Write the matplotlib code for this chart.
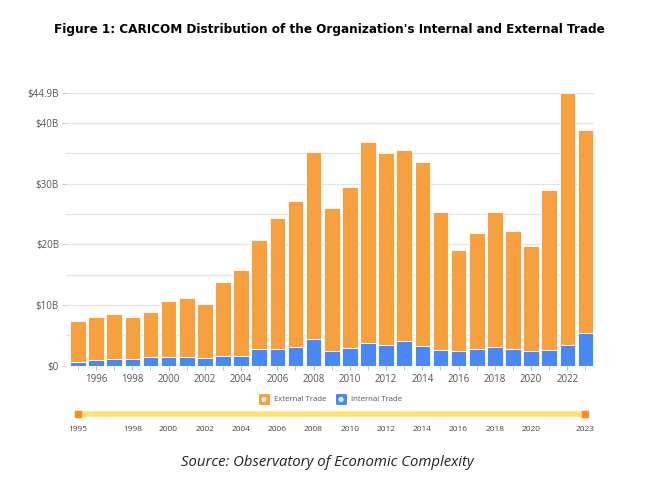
import numpy as np
import matplotlib.pyplot as plt
from matplotlib.patches import FancyBboxPatch, Circle

# Datos (miles de millones USD)
years = list(range(1995, 2024))
internal = [0.66, 0.88, 1.1, 1.1, 1.43, 1.45, 1.45, 1.27, 1.65, 1.6,
            2.7, 2.8, 3.1, 4.35, 2.5, 2.97, 3.74, 3.4, 4.07, 3.3,
            2.6, 2.5, 2.75, 3.08, 2.75, 2.37, 2.64, 3.4, 5.34]
total = [7.3, 8.0, 8.6, 8.1, 8.8, 10.6, 11.2, 10.2, 13.8, 15.7,
         20.7, 24.3, 27.1, 35.2, 26.0, 29.5, 36.9, 35.0, 35.6, 33.6,
         25.4, 19.1, 21.9, 25.4, 22.2, 19.7, 28.9, 44.9, 38.8]
external = [t - i for t, i in zip(total, internal)]

ytick_vals = [0, 10, 20, 30, 40, 44.9]
ytick_labels = ['$0', '$10B', '$20B', '$30B', '$40B', '$44.9B']
xtick_years = list(range(1996, 2023, 2))
slider_years = [1995, 1998, 2000, 2002, 2004, 2006, 2008, 2010, 2012,
                2014, 2016, 2018, 2020, 2023]

ORANGE = '#F7A040'
BLUE = '#4A88F5'
GRID = '#E4E4E4'
TXT = '#555555'

plt.rcParams['font.family'] = ['Open Sans', 'DejaVu Sans']

fig = plt.figure(figsize=(6.58, 4.96), dpi=100)
ax = fig.add_axes([66 / 658, 1 - 365.7 / 496, 528 / 658, 272.4 / 496])

ax.bar(years, internal, width=0.86, color=BLUE, edgecolor='white', linewidth=0.6, zorder=3)
ax.bar(years, external, width=0.86, bottom=internal, color=ORANGE,
       edgecolor='white', linewidth=0.6, zorder=3)

ax.set_xlim(1994.34, 2023.47)
ax.set_ylim(0, 44.9)
ax.set_yticks(ytick_vals)
ax.set_yticklabels(ytick_labels)
ax.set_yticks([5, 15, 25, 35], minor=True)
ax.grid(axis='y', which='both', color=GRID, linewidth=0.9, zorder=0)
ax.set_xticks(xtick_years)
ax.set_xticks(years, minor=True)
ax.tick_params(axis='x', which='both', length=3, color='#BBBBBB', labelsize=7,
               labelcolor=TXT, pad=3)
ax.tick_params(axis='y', which='major', length=3, color='#CCCCCC', labelsize=7,
               labelcolor=TXT, pad=2)
ax.tick_params(axis='y', which='minor', length=0)
for s in ax.spines.values():
    s.set_visible(False)

# Leyenda con iconos
def legend_icon(x, y, color):
    box = FancyBboxPatch((x, y), 11, 11, boxstyle='round,pad=0,rounding_size=1.5',
                         transform=None, facecolor=color, edgecolor='none')
    fig.patches.append(box)
    fig.patches.append(Circle((x + 5, y + 5.5), 2.6, transform=None,
                              facecolor='white', alpha=0.85, edgecolor='none'))

legend_icon(259, 496 - 405, ORANGE)
fig.text(274 / 658, 1 - 399.5 / 496, 'External Trade', fontsize=5.6, color=TXT, va='center')
legend_icon(336, 496 - 405, BLUE)
fig.text(351 / 658, 1 - 399.5 / 496, 'Internal Trade', fontsize=5.6, color=TXT, va='center')

# Barra deslizante
sax = fig.add_axes([66 / 658, 1 - 420 / 496, 528 / 658, 12 / 496])
sax.set_xlim(ax.get_xlim())
sax.set_ylim(-1, 1)
sax.plot([1995, 2023], [0, 0], color='#FFE070', linewidth=4, solid_capstyle='butt', zorder=1)
sax.plot([1995, 2023], [0, 0], linestyle='none', marker='s', markersize=5,
         markerfacecolor='#FF8C1A', markeredgecolor='#FF8C1A', zorder=2)
sax.set_xticks(slider_years)
sax.tick_params(axis='x', length=0, labelsize=6, labelcolor='#444444', pad=4)
sax.set_yticks([])
for s in sax.spines.values():
    s.set_visible(False)

fig.text(0.5, 1 - 30 / 496,
         "Figure 1: CARICOM Distribution of the Organization's Internal and External Trade",
         ha='center', va='center', fontsize=9.6, fontweight='bold', color='black',
         family='DejaVu Sans', fontstretch='condensed')
fig.text(0.497, 1 - 463 / 496, 'Source: Observatory of Economic Complexity',
         ha='center', va='center', fontsize=10.7, style='italic', color='#222222')

fig.savefig('out.png', dpi=100)
